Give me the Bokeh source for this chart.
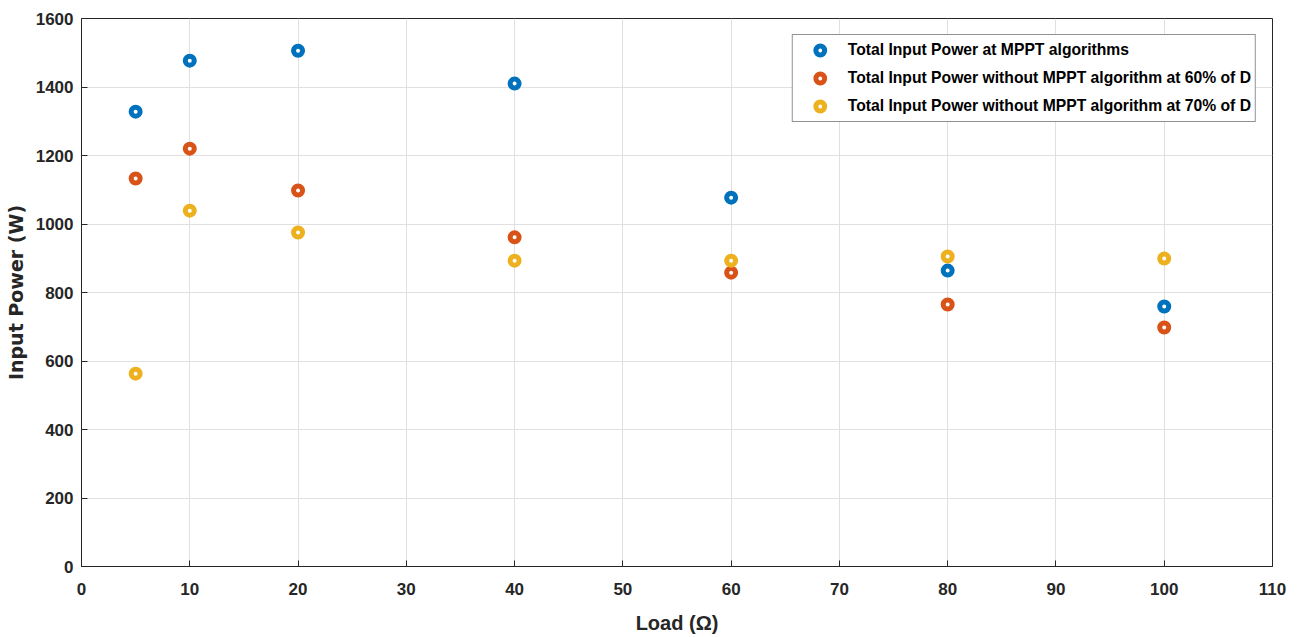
from bokeh.plotting import figure
from bokeh.models import Range1d, FixedTicker, Legend, LegendItem
from bokeh.embed import file_html
from bokeh.resources import INLINE

loads = [5, 10, 20, 40, 60, 80, 100]
p_mppt = [1328, 1477, 1506, 1410, 1077, 864, 759]
p_60 = [1133, 1220, 1098, 961, 858, 765, 698]
p_70 = [563, 1039, 975, 893, 893, 905, 899]

series_names = [
    "Total Input Power at MPPT algorithms",
    "Total Input Power without MPPT algorithm at 60% of D",
    "Total Input Power without MPPT algorithm at 70% of D",
]
colors = ["#0072BD", "#D95319", "#EDB120"]
x_ticks = list(range(0, 111, 10))
y_ticks = list(range(0, 1601, 200))

NARROW = "Liberation Sans"
WIDE = "DejaVu Sans"
TXT = "#262626"

p = figure(width=1298, height=637, output_backend="svg", toolbar_location=None,
           x_range=Range1d(0, 110), y_range=Range1d(0, 1600),
           min_border_left=81, min_border_right=26, min_border_top=18, min_border_bottom=71)

renderers = []
for ys, c in zip([p_mppt, p_60, p_70], colors):
    r = p.scatter(loads, ys, marker="circle", size=9, line_width=5,
                  line_color=c, fill_color="white")
    renderers.append(r)

legend = Legend(items=[LegendItem(label=n, renderers=[r]) for n, r in zip(series_names, renderers)],
                location="top_right")
legend.margin = 16
legend.padding = 4
legend.spacing = 6
legend.glyph_height = 22
legend.glyph_width = 46
legend.label_standoff = 5
legend.label_text_font = NARROW
legend.label_text_font_style = "bold"
legend.label_text_font_size = "15.7px"
legend.label_text_color = "black"
legend.border_line_color = "#262626"
legend.border_line_width = 1
legend.background_fill_alpha = 1
p.add_layout(legend)

p.xaxis.ticker = FixedTicker(ticks=x_ticks)
p.yaxis.ticker = FixedTicker(ticks=y_ticks)
for ax in (p.xaxis[0], p.yaxis[0]):
    ax.major_tick_in = 6
    ax.major_tick_out = 0
    ax.minor_tick_in = 0
    ax.minor_tick_out = 0
    ax.major_label_text_font = NARROW
    ax.major_label_text_font_style = "bold"
    ax.major_label_text_font_size = "17px"
    ax.major_label_text_color = TXT
    ax.axis_label_text_font_style = "bold"
    ax.axis_label_text_color = TXT
    ax.axis_line_color = TXT
    ax.major_tick_line_color = TXT
p.xaxis.axis_label = "Load (Ω)"
p.xaxis.axis_label_text_font = NARROW
p.xaxis.axis_label_text_font_size = "20px"
p.yaxis.axis_label = "Input Power (W)"
p.yaxis.axis_label_text_font = WIDE
p.yaxis.axis_label_text_font_size = "19px"
p.xaxis.axis_label_standoff = 14
p.yaxis.axis_label_standoff = 6
p.xaxis.major_label_standoff = 16
p.yaxis.major_label_standoff = 8

p.xgrid.grid_line_color = "#e0e0e0"
p.ygrid.grid_line_color = "#e0e0e0"
p.outline_line_color = TXT
p.outline_line_alpha = 1
p.outline_line_width = 1
p.background_fill_color = "white"
p.border_fill_color = "white"

open("out.html", "w").write(file_html(p, INLINE))
